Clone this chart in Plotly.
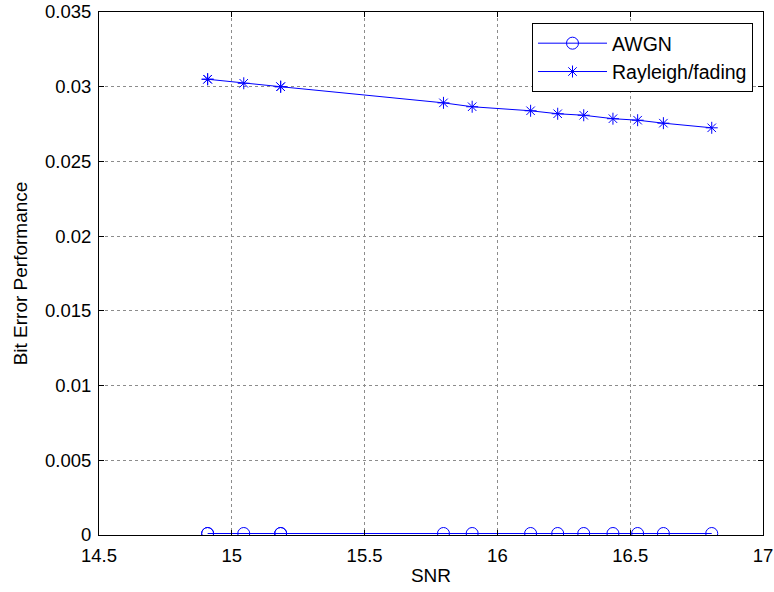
import plotly.graph_objects as go

snr = [14.909, 15.045, 15.184, 14.909, 15.184, 15.797, 15.905, 16.125, 16.227, 16.325, 16.435, 16.528, 16.625, 16.807]
ber_awgn = [0.0001, 0.0001, 0.0001, 0.0001, 0.0001, 0.0001, 0.0001, 0.0001, 0.0001, 0.0001, 0.0001, 0.0001, 0.0001, 0.0001]
ber_rayleigh = [0.03050, 0.03023, 0.03000, 0.03050, 0.03000, 0.02892, 0.02866, 0.02839, 0.02819, 0.02809, 0.02786, 0.02776, 0.02756, 0.02725]

x_ticks = [14.5, 15, 15.5, 16, 16.5, 17]
x_labels = ["14.5", "15", "15.5", "16", "16.5", "17"]
y_ticks = [0, 0.005, 0.01, 0.015, 0.02, 0.025, 0.03, 0.035]
y_labels = ["0", "0.005", "0.01", "0.015", "0.02", "0.025", "0.03", "0.035"]

FONT = "Arial, Liberation Sans, Helvetica, sans-serif"
BLUE = "#0000ff"

fig = go.Figure()
fig.add_trace(go.Scatter(
    x=snr, y=ber_awgn, name="AWGN", mode="lines+markers",
    line=dict(color=BLUE, width=1),
    marker=dict(symbol="circle-open", size=12, color=BLUE, line=dict(width=1, color=BLUE)),
))
fig.add_trace(go.Scatter(
    x=snr, y=ber_rayleigh, name="Rayleigh/fading", mode="lines+markers",
    line=dict(color=BLUE, width=1),
    marker=dict(symbol="asterisk-open", size=10, color=BLUE, line=dict(width=1, color=BLUE)),
))

axis_common = dict(
    showline=True, linecolor="black", linewidth=1, mirror="allticks",
    ticks="inside", ticklen=5, tickcolor="black",
    showgrid=True, gridcolor="#8c8c8c", gridwidth=1, griddash="dot",
    zeroline=False,
    ticklabeloverflow="allow",
    tickfont=dict(family=FONT, size=18.5, color="black"),
)

fig.update_xaxes(
    range=[14.5, 17], tickvals=x_ticks, ticktext=x_labels,
    title=dict(text="SNR", font=dict(family=FONT, size=19, color="black"), standoff=3),
    ticklabelstandoff=4,
    **axis_common,
)
fig.update_yaxes(
    range=[0, 0.035], tickvals=y_ticks, ticktext=y_labels,
    title=dict(text="Bit Error Performance", font=dict(family=FONT, size=19, color="black"), standoff=12),
    ticklabelstandoff=3,
    **axis_common,
)

fig.update_layout(
    width=774, height=592,
    margin=dict(l=99, r=11, t=12, b=57, autoexpand=False),
    paper_bgcolor="white", plot_bgcolor="white",
    font=dict(family=FONT, size=19, color="black"),
    showlegend=True,
    legend=dict(
        x=(532 - 99) / (763 - 99), y=1 - (23 - 12) / (535 - 12),
        xanchor="left", yanchor="top",
        bgcolor="white", bordercolor="black", borderwidth=1,
        font=dict(family=FONT, size=19.5, color="black"),
        itemwidth=69, tracegroupgap=0,
    ),
)

fig.write_html(
    "out.html",
    config={"displayModeBar": False},
    post_script="document.body.style.margin='0';document.body.style.overflow='hidden';",
)
